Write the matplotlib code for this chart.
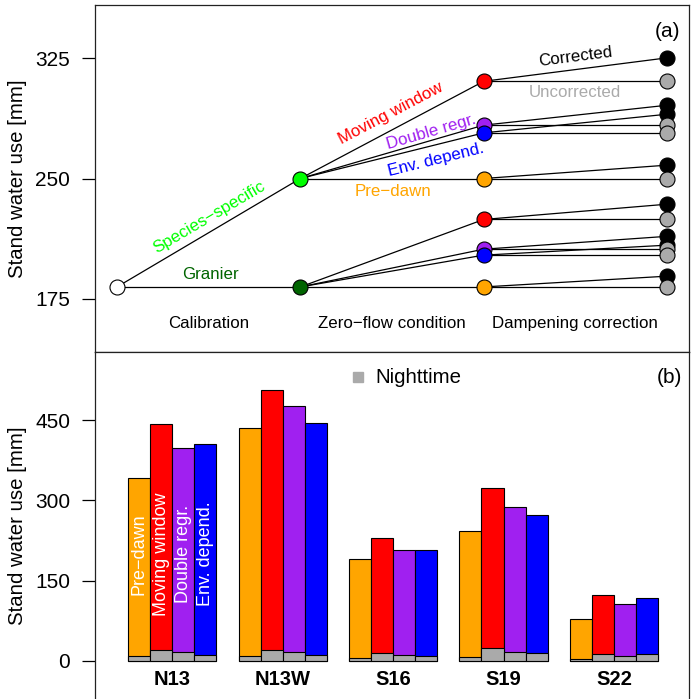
import matplotlib.pyplot as plt

plt.rcParams['font.family'] = ['Liberation Sans', 'DejaVu Sans']

# --- dados painel (a) ---
calibracao = 182.5
zero_especie = 250.0
zero_granier = 182.5
metodos = ['Pre\u2212dawn', 'Moving window', 'Double regr.', 'Env. depend.']
cores = ['#FFA500', '#FF0000', '#A020F0', '#0000FF']
sem_corr_especie = [250.0, 310.5, 283.2, 278.4]
com_corr_especie = [258.3, 325.1, 295.6, 290.0]
sem_corr_granier = [182.5, 224.5, 206.0, 202.3]
com_corr_granier = [189.2, 234.0, 214.0, 208.5]

# --- dados painel (b) ---
locais = ['N13', 'N13W', 'S16', 'S19', 'S22']
total = {
    'Pre\u2212dawn':  [341.6, 434.8, 190.7, 242.9, 77.6],
    'Moving window': [442.9, 506.0, 229.8, 322.4, 123.6],
    'Double regr.':  [398.0, 477.0, 206.8, 287.6, 105.6],
    'Env. depend.':  [406.0, 445.3, 206.8, 272.0, 117.4],
}
noturno = {
    'Pre\u2212dawn':  [8.7, 8.7, 5.0, 6.8, 3.0],
    'Moving window': [21.0, 21.0, 15.5, 23.6, 13.0],
    'Double regr.':  [16.0, 16.0, 10.5, 16.0, 9.3],
    'Env. depend.':  [10.5, 10.5, 9.3, 14.3, 12.4],
}

fig = plt.figure(figsize=(6.92, 6.99), dpi=100)
ax1 = fig.add_axes([95/692, 1-352/699, 594/692, 347/699])
ax2 = fig.add_axes([95/692, 0, 594/692, 347/699])

cinza = '#aaaaaa'
ms = 10.8
lw = 0.9

# linhas
ax1.plot([1, 2], [calibracao, zero_especie], color='k', lw=lw, zorder=1)
ax1.plot([1, 2], [calibracao, zero_granier], color='k', lw=lw, zorder=1)
for inicio, sem, com in [(zero_especie, sem_corr_especie, com_corr_especie),
                         (zero_granier, sem_corr_granier, com_corr_granier)]:
    for s, c in zip(sem, com):
        ax1.plot([2, 3], [inicio, s], color='k', lw=lw, zorder=1)
        ax1.plot([3, 4], [s, c], color='k', lw=lw, zorder=1)
        ax1.plot([3, 4], [s, s], color='k', lw=lw, zorder=1)

# pontos
ax1.plot(1, calibracao, 'o', ms=ms, mfc='white', mec='k', mew=0.8, zorder=3)
ax1.plot(2, zero_especie, 'o', ms=ms, mfc='#00FF00', mec='k', mew=0.8, zorder=3)
ax1.plot(2, zero_granier, 'o', ms=ms, mfc='#006400', mec='k', mew=0.8, zorder=3)
for sem, com in [(sem_corr_especie, com_corr_especie), (sem_corr_granier, com_corr_granier)]:
    for s, c, cor in zip(sem, com, cores):
        ax1.plot(3, s, 'o', ms=ms, mfc=cor, mec='k', mew=0.8, zorder=3)
        ax1.plot(4, c, 'o', ms=ms, mfc='k', mec='k', mew=0.8, zorder=3)
    for s in sem:
        ax1.plot(4, s, 'o', ms=ms, mfc=cinza, mec='k', mew=0.8, zorder=4)

fs = 12.2
ax1.text(1.505, 225.7, 'Species\u2212specific', color='#00FF00', fontsize=fs,
         rotation=30.5, ha='center', va='center')
ax1.text(1.507, 190.0, 'Granier', color='#006400', fontsize=fs, ha='center', va='center')
ax1.text(2.492, 290.4, 'Moving window', color='#FF0000', fontsize=fs,
         rotation=27.8, ha='center', va='center')
ax1.text(2.715, 279.2, 'Double regr.', color='#A020F0', fontsize=fs,
         rotation=16.2, ha='center', va='center')
ax1.text(2.742, 261.8, 'Env. depend.', color='#0000FF', fontsize=fs,
         rotation=13.9, ha='center', va='center')
ax1.text(2.503, 241.6, 'Pre\u2212dawn', color='#FFA500', fontsize=fs, ha='center', va='center')
ax1.text(3.501, 325.9, 'Corrected', color='k', fontsize=fs,
         rotation=7.3, ha='center', va='center')
ax1.text(3.5, 303.5, 'Uncorrected', color=cinza, fontsize=fs, ha='center', va='center')
for x, t in zip([1.5, 2.5, 3.5], ['Calibration', 'Zero\u2212flow condition', 'Dampening correction']):
    ax1.text(x, 159.8, t, fontsize=fs, ha='center', va='center')
ax1.text(4.07, 341.5, '(a)', fontsize=15, ha='right', va='center')

ax1.set_xlim(0.88, 4.12)
ax1.set_ylim(142, 358)
ax1.set_xticks([])
ax1.set_yticks([175, 250, 325])
ax1.set_ylabel('Stand water use [mm]', fontsize=14.7, labelpad=6)

# --- painel (b) ---
for j, m in enumerate(metodos):
    xs = [g * 5 + j + 0.5 for g in range(len(locais))]
    ax2.bar(xs, total[m], width=1, color=cores[j], edgecolor='k', lw=0.8, zorder=2)
    ax2.bar(xs, noturno[m], width=1, color=cinza, edgecolor='k', lw=0.8, zorder=3)
    ax2.text(j + 0.5, 200, m, rotation=90, color='white', fontsize=13,
             ha='center', va='center', zorder=4)

for g, loc in enumerate(locais):
    ax2.text(g * 5 + 2, -35, loc, fontsize=14.5, fontweight='bold', ha='center', va='center')

ax2.plot(10.39, 530, 's', ms=7.5, color=cinza)
ax2.text(11.2, 530, 'Nighttime', fontsize=14.7, ha='left', va='center')
ax2.text(25.1, 530, '(b)', fontsize=15, ha='right', va='center')

ax2.set_xlim(-1.5, 25.4)
ax2.set_ylim(-71, 577)
ax2.set_xticks([])
ax2.set_yticks([0, 150, 300, 450])
ax2.spines['bottom'].set_visible(False)
ax2.set_ylabel('Stand water use [mm]', fontsize=14.7, labelpad=6)

for ax in (ax1, ax2):
    ax.tick_params(axis='y', length=9.4, width=0.9, pad=8.6, labelsize=15)
    for s in ax.spines.values():
        s.set_linewidth(0.9)
        s.set_color('#222222')

fig.savefig('out.png', dpi=100)
